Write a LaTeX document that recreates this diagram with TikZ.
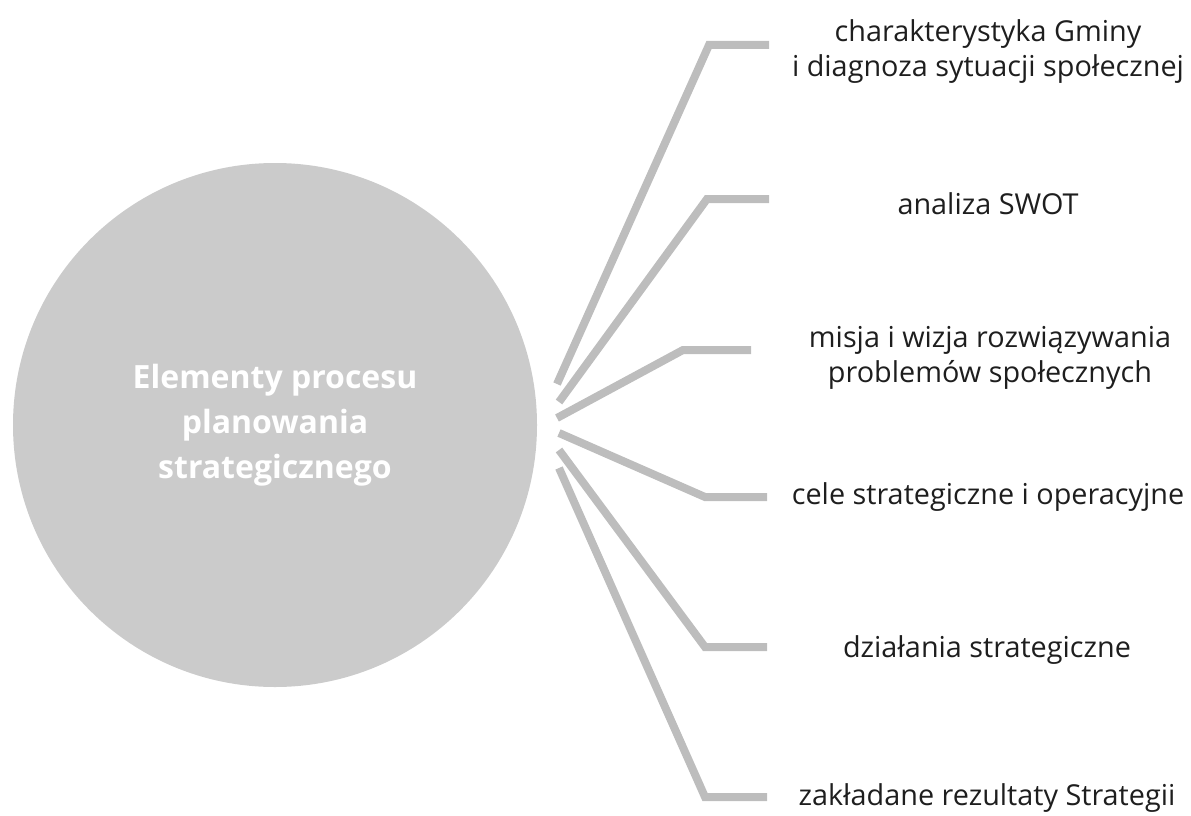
\documentclass[tikz,border=0pt]{standalone}
\usepackage{fontspec}
\setmainfont{Open Sans}
\begin{document}
\begin{tikzpicture}[x=1pt,y=-1pt,
  circfill/.style={circle, fill=circgray, draw=none, inner sep=0pt, minimum size=524pt,
    text=white, align=center, font=\fontsize{32}{45}\selectfont\bfseries},
  label/.style={align=center, text=txtgray, inner sep=0pt,
    font=\fontsize{28.8}{35}\selectfont},
  conn/.style={draw=linegray, line width=8pt, line cap=butt, line join=miter}]
\definecolor{circgray}{HTML}{CBCBCB}
\definecolor{linegray}{HTML}{BDBDBD}
\definecolor{txtgray}{HTML}{1E1E1E}
\useasboundingbox (0,0) rectangle (1191,816);

\node[circfill] (c) at (275,425) {Elementy procesu\\planowania\\strategicznego};

\node[label] (l1) at (988,52) {charakterystyka Gminy\\i diagnoza sytuacji społecznej};
\node[label] (l2) at (988,204) {analiza SWOT};
\node[label] (l3) at (990,358) {misja i wizja rozwiązywania\\problemów społecznych};
\node[label] (l4) at (988,497) {cele strategiczne i operacyjne};
\node[label] (l5) at (987,650) {działania strategiczne};
\node[label] (l6) at (987,798) {zakładane rezultaty Strategii};

\coordinate (s1) at (557,384);
\coordinate (s2) at (559,402);
\coordinate (s3) at (557,418);
\coordinate (s4) at (559,433);
\coordinate (s5) at (559,450);
\coordinate (s6) at (559,468);

\coordinate (k1) at (709,45);
\coordinate (k2) at (707,199);
\coordinate (k3) at (683,350);
\coordinate (k4) at (705,497);
\coordinate (k5) at (705,647);
\coordinate (k6) at (705,797);

\coordinate (e1) at (769,45);
\coordinate (e2) at (769,199);
\coordinate (e3) at (751,350);
\coordinate (e4) at (767,497);
\coordinate (e5) at (767,647);
\coordinate (e6) at (767,797);

\draw[conn] (s1) -- (k1) -- (e1);
\draw[conn] (s2) -- (k2) -- (e2);
\draw[conn] (s3) -- (k3) -- (e3);
\draw[conn] (s4) -- (k4) -- (e4);
\draw[conn] (s5) -- (k5) -- (e5);
\draw[conn] (s6) -- (k6) -- (e6);
\end{tikzpicture}
\end{document}
